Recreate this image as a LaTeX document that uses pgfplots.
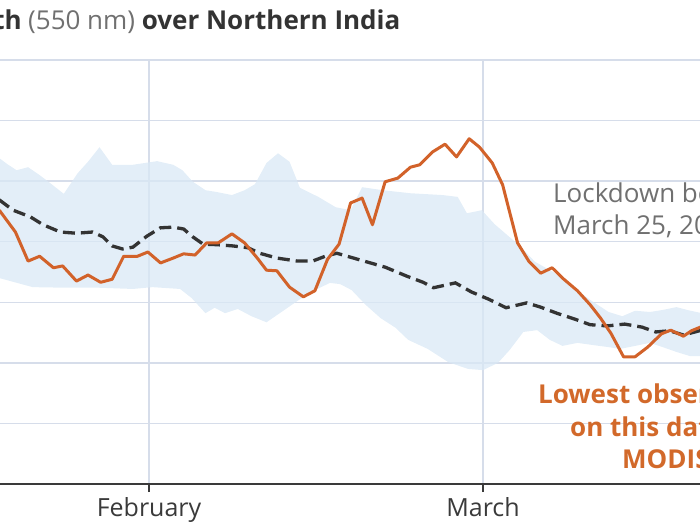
\documentclass[border=0pt]{standalone}
\usepackage{pgfplots}
\pgfplotsset{compat=1.18}
\usepackage{fontspec}
\setmainfont{Open Sans}
\definecolor{orangeln}{HTML}{D2622A}
\definecolor{bandcol}{HTML}{D9E8F5}
\definecolor{gridcol}{HTML}{D6DDEA}
\definecolor{dashcol}{HTML}{333333}
\definecolor{titlecol}{HTML}{333333}
\definecolor{graytxt}{HTML}{707070}
\definecolor{orangetxt}{HTML}{D2692A}
\definecolor{axiscol}{HTML}{3A3A3A}
\begin{document}
\begin{tikzpicture}[trim left=0pt, trim right=700pt]
\path (0pt,0pt) rectangle (700pt,525pt);
\begin{axis}[
  at={(0pt,41pt)}, anchor=south west,
  scale only axis, width=700pt, height=424pt,
  xmin=-12.94, xmax=47.84, ymin=0, ymax=0.7,
  axis x line*=bottom, axis y line*=left,
  x axis line style={-, draw=axiscol, line width=1.5pt},
  y axis line style={draw=none},
  xtick={0,29}, xticklabels={February,March},
  ytick={0.1,0.2,0.3,0.4,0.5,0.6,0.7}, yticklabels={},
  ytick style={draw=none},
  xtick style={draw=axiscol, line width=1.3pt},
  tick align=outside, major tick length=8pt,
  xticklabel style={font=\fontsize{25}{29}\selectfont, text=axiscol, inner sep=2pt, yshift=-3pt},
  grid=major, grid style={gridcol, line width=1.5pt},
]
\addplot[draw=none, fill=bandcol, fill opacity=0.75] coordinates {
(-13.0,0.538) (-12.3,0.528) (-11.5,0.518) (-10.5,0.523) (-9.5,0.510) (-8.6,0.497)
(-7.4,0.479) (-6.2,0.513) (-5.3,0.532) (-4.3,0.556) (-3.2,0.527) (-1.4,0.527)
(0.7,0.533) (2.1,0.527) (2.9,0.518) (3.8,0.499) (4.9,0.485) (5.9,0.482)
(7.2,0.477) (8.3,0.485) (9.2,0.495) (10.2,0.530) (11.2,0.546) (12.2,0.532)
(13.1,0.489) (14.7,0.474) (16.2,0.457) (17.5,0.452) (18.5,0.490) (20.3,0.485)
(22.7,0.480) (25.5,0.477) (26.8,0.474) (27.6,0.447) (28.9,0.452) (30.0,0.429)
(31.1,0.411) (32.2,0.393) (33.5,0.367) (35.1,0.350) (36.8,0.325) (38.3,0.304)
(39.9,0.284) (41.1,0.277) (42.2,0.286) (43.5,0.284) (44.5,0.287) (45.8,0.292)
(46.8,0.287) (48.0,0.282)
(48.0,0.211) (47.0,0.211) (45.8,0.218) (44.6,0.226) (43.5,0.233) (42.2,0.228)
(40.9,0.223) (39.9,0.226) (38.7,0.229) (37.2,0.233) (35.9,0.228) (34.8,0.238)
(33.7,0.254) (32.5,0.251) (31.3,0.221) (30.3,0.200) (29.0,0.188) (27.7,0.190)
(26.0,0.201) (24.2,0.223) (22.5,0.238) (21.4,0.258) (20.1,0.274) (18.8,0.296)
(17.6,0.320) (16.6,0.330) (15.7,0.332) (14.4,0.320) (13.1,0.305) (11.5,0.284)
(10.2,0.267) (8.9,0.277) (7.7,0.289) (6.6,0.282) (5.7,0.291) (4.9,0.282)
(3.7,0.307) (2.7,0.322) (0.3,0.325) (-1.4,0.322) (-4.3,0.324) (-7.1,0.324)
(-10.1,0.325) (-13.0,0.340)
} -- cycle;
\addplot[dashcol, line width=3.3pt, dash pattern=on 12pt off 6pt] coordinates {
(-13.0,0.469) (-11.8,0.452) (-10.3,0.441) (-9.2,0.428) (-7.7,0.416) (-6.3,0.414)
(-4.9,0.416) (-4.0,0.408) (-3.2,0.393) (-2.3,0.388) (-1.4,0.391) (-0.2,0.409)
(1.0,0.423) (2.1,0.424) (3.0,0.421) (3.8,0.408) (4.7,0.396) (6.0,0.395)
(7.3,0.393) (8.6,0.390) (9.6,0.381) (11.1,0.373) (12.9,0.368) (14.2,0.368)
(15.3,0.376) (16.3,0.381) (18.3,0.370) (20.5,0.358) (22.4,0.343) (23.8,0.333)
(24.7,0.324) (26.6,0.332) (28.0,0.317) (29.5,0.305) (31.0,0.291) (32.8,0.299)
(34.0,0.292) (35.4,0.282) (37.0,0.272) (38.3,0.263) (39.8,0.261) (41.3,0.264)
(42.8,0.259) (44.0,0.251) (45.2,0.253) (46.4,0.246) (48.0,0.254)
};
\addplot[orangeln, line width=3pt, line join=round] coordinates {
(-13.0,0.452) (-11.6,0.416) (-10.5,0.368) (-9.5,0.376) (-8.3,0.357) (-7.5,0.360)
(-6.3,0.335) (-5.3,0.345) (-4.2,0.333) (-3.2,0.338) (-2.2,0.376) (-1.0,0.376)
(-0.1,0.383) (1.0,0.365) (2.1,0.373) (3.0,0.380) (4.0,0.378) (5.0,0.398)
(6.0,0.398) (7.2,0.413) (8.3,0.398) (9.4,0.373) (10.2,0.353) (11.1,0.352)
(12.2,0.325) (13.4,0.309) (14.4,0.319) (15.5,0.371) (16.5,0.396) (17.5,0.464)
(18.5,0.472) (19.4,0.428) (20.5,0.499) (21.6,0.505) (22.7,0.523) (23.5,0.527)
(24.6,0.548) (25.7,0.561) (26.7,0.540) (27.8,0.570) (28.7,0.556) (29.8,0.530)
(30.7,0.494) (32.0,0.398) (33.0,0.367) (34.0,0.348) (35.0,0.357) (35.9,0.340)
(37.2,0.319) (38.3,0.296) (39.2,0.274) (40.1,0.249) (41.2,0.210) (42.2,0.210)
(43.3,0.226) (44.5,0.248) (45.3,0.254) (46.4,0.244) (47.1,0.253) (48.0,0.260)
};
\end{axis}
\node[anchor=base east, inner sep=0pt, font=\fontsize{26}{30}\selectfont\bfseries, text=titlecol] at (22pt,495pt) {Aerosol Optical Depth};
\node[anchor=base west, inner sep=0pt, font=\fontsize{26}{30}\selectfont, text=titlecol] at (28pt,495pt) {{\color{graytxt}(550 nm)} \textbf{over Northern India}};
\node[anchor=base west, inner sep=0pt, font=\fontsize{26}{30}\selectfont, text=graytxt] at (553pt,322pt) {Lockdown began};
\node[anchor=base west, inner sep=0pt, font=\fontsize{26}{30}\selectfont, text=graytxt] at (553pt,290pt) {March 25, 2020};
\node[anchor=base west, inner sep=0pt, font=\fontsize{26}{30}\selectfont\bfseries, text=orangetxt] at (538pt,122pt) {Lowest observed};
\node[anchor=base west, inner sep=0pt, font=\fontsize{26}{30}\selectfont\bfseries, text=orangetxt] at (570pt,89pt) {on this date by};
\node[anchor=base west, inner sep=0pt, font=\fontsize{26}{30}\selectfont\bfseries, text=orangetxt] at (622pt,57pt) {MODIS};
\end{tikzpicture}
\end{document}
